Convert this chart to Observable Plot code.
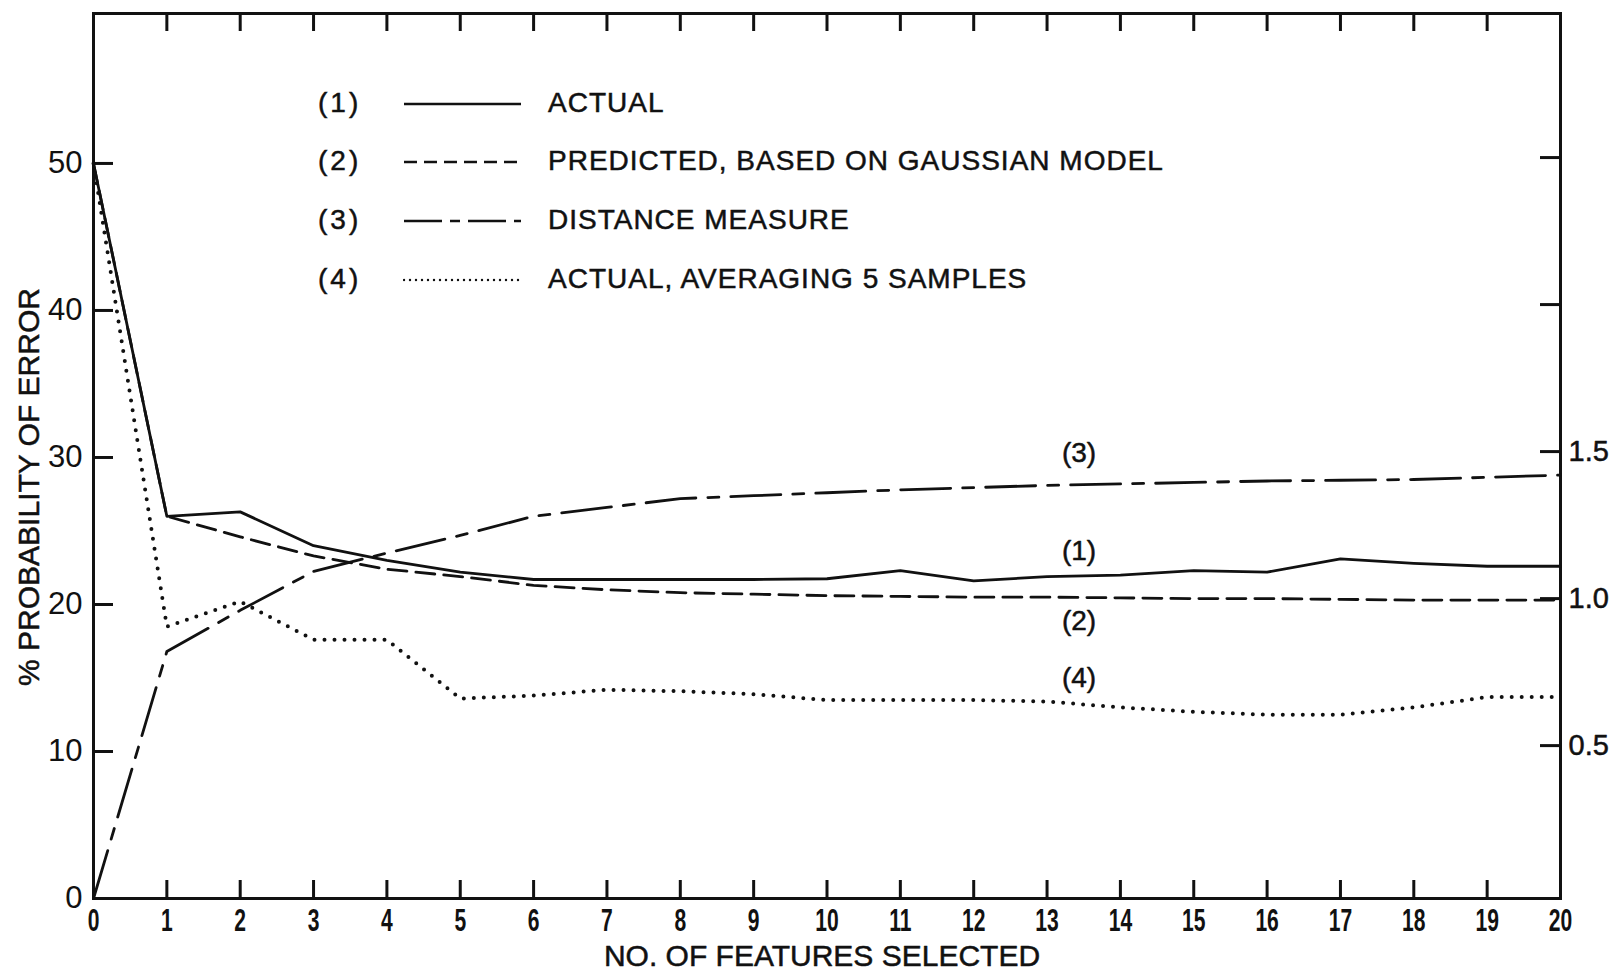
<!DOCTYPE html>
<html>
<head>
<meta charset="utf-8">
<script src="https://cdn.jsdelivr.net/npm/d3@7"></script>
<script src="https://cdn.jsdelivr.net/npm/@observablehq/plot@0.6"></script>
<style>
  body { margin: 0; background: #fff; }
  #wrap { position: relative; width: 1623px; height: 976px; overflow: hidden; }
  .leg { position: absolute; font-family: "Liberation Sans", Arial, sans-serif; font-size: 28px; color: #111; white-space: nowrap; line-height: 1; -webkit-text-stroke: 0.5px #111; }
  g[aria-label="x-axis tick label"] text { font-family: "Liberation Sans", Arial, sans-serif; font-weight: bold; }
</style>
</head>
<body>
<div id="wrap"></div>
<script>
// ---- data ----
const features = [0,1,2,3,4,5,6,7,8,9,10,11,12,13,14,15,16,17,18,19,20];
const actual    = [50, 26.0, 26.3, 24.0, 23.0, 22.2, 21.7, 21.7, 21.7, 21.7, 21.75, 22.3, 21.6, 21.9, 22.0, 22.3, 22.2, 23.1, 22.8, 22.6, 22.6];
const predicted = [50, 26.0, 24.6, 23.3, 22.4, 21.9, 21.3, 21.0, 20.8, 20.7, 20.6, 20.55, 20.5, 20.5, 20.45, 20.4, 20.4, 20.35, 20.3, 20.3, 20.3];
const distance  = [0, 16.8, 19.6, 22.25, 23.5, 24.7, 26.0, 26.6, 27.2, 27.4, 27.6, 27.8, 27.95, 28.1, 28.2, 28.3, 28.4, 28.45, 28.5, 28.65, 28.8];
const averaged  = [50, 18.5, 20.2, 17.6, 17.6, 13.6, 13.8, 14.2, 14.1, 13.9, 13.5, 13.5, 13.5, 13.4, 13.0, 12.7, 12.5, 12.5, 13.0, 13.7, 13.7];

const leftTickValues  = [10, 20, 30, 40, 50];
const leftTickLabels  = [0, 10, 20, 30, 40, 50];
const rightTickValues = [0.5, 1.0, 1.5, 2.0, 2.5];
const rightTickLabels = [0.5, 1.0, 1.5];
const innerXTicks = [1,2,3,4,5,6,7,8,9,10,11,12,13,14,15,16,17,18,19];

const legendKeys   = ["(1)", "(2)", "(3)", "(4)"];
const legendLabels = ["ACTUAL", "PREDICTED, BASED ON GAUSSIAN MODEL", "DISTANCE MEASURE", "ACTUAL, AVERAGING 5 SAMPLES"];
const xLabel = "NO. OF FEATURES SELECTED";
const yLabel = "% PROBABILITY OF ERROR";

// ---- layout / style ----
const W = 1623, H = 976, mL = 93, mR = 63, mT = 13, mB = 78;
const yMax = 60.2;
const pxX = (W - mL - mR) / 20, pxY = (H - mT - mB) / yMax;
const tickLenV = 18 / pxY;  // vertical ticks, in y units
const tickLenH = 20 / pxX;  // horizontal ticks, in x units
const rightToLeft = r => r * 20 + 0.4;
const ink = "#111";
const font = "Liberation Sans, Arial, sans-serif";
const textStroke = {stroke: ink, strokeWidth: 0.5};
const styles = [
  {stroke: ink, strokeWidth: 2.8},
  {stroke: ink, strokeWidth: 2.8, strokeDasharray: "19,9"},
  {stroke: ink, strokeWidth: 2.8, strokeDasharray: "50,12,11,12"},
  {stroke: ink, strokeWidth: 4, strokeDasharray: "0,10", strokeLinecap: "round"}
];
const legendDash = ["", "13,7", "38,8,10,8", "0,6"];
const series = [actual, predicted, distance, averaged];
const annIdx = 13;
const annDy = [-26, 24, -32, -23];

const seriesMarks = series.map((s, k) => Plot.line(s, {
  x: (d, i) => features[i], y: d => d, strokeLinejoin: "round", ...styles[k]
}));
const annMarks = series.map((s, k) => Plot.text([s[annIdx]], {
  x: features[annIdx], y: d => d, text: () => legendKeys[k], dx: 32, dy: annDy[k],
  fontSize: 28, fill: ink, fontFamily: font, letterSpacing: 3, ...textStroke
}));

const plot = Plot.plot({
  width: W, height: H,
  marginLeft: mL, marginRight: mR, marginTop: mT, marginBottom: mB,
  x: {domain: [0, 20]},
  y: {domain: [0, yMax]},
  style: {background: "white", color: ink, fontFamily: font},
  marks: [
    Plot.frame({stroke: ink, strokeWidth: 3}),
    Plot.ruleX(innerXTicks, {x: d => d, y1: 0, y2: tickLenV, stroke: ink, strokeWidth: 3}),
    Plot.ruleX(innerXTicks, {x: d => d, y1: yMax - tickLenV, y2: yMax, stroke: ink, strokeWidth: 3}),
    Plot.ruleY(leftTickValues, {y: d => d, x1: 0, x2: tickLenH, stroke: ink, strokeWidth: 3}),
    Plot.ruleY(rightTickValues, {y: rightToLeft, x1: 20 - tickLenH, x2: 20, stroke: ink, strokeWidth: 3}),
    Plot.axisX({ticks: features, tickSize: 0, tickPadding: 10, fontSize: 31, label: null, tickFormat: d => String(d)}),
    Plot.axisY({ticks: leftTickLabels, tickSize: 0, tickPadding: 11, fontSize: 31, label: null, tickFormat: d => String(d), ...textStroke}),
    Plot.text(rightTickLabels, {x: 20, y: rightToLeft, text: r => r.toFixed(1), textAnchor: "start", dx: 8,
      fontSize: 29, fill: ink, letterSpacing: -1, ...textStroke}),
    ...seriesMarks,
    ...annMarks,
    Plot.text([xLabel], {frameAnchor: "bottom", lineAnchor: "middle", textAnchor: "middle", dy: 58, dx: -5,
      text: d => d, fontSize: 30, fill: ink, ...textStroke}),
    Plot.text([yLabel], {frameAnchor: "left", lineAnchor: "middle", textAnchor: "middle", rotate: -90, dx: -64, dy: 31,
      text: d => d, fontSize: 30, fill: ink, letterSpacing: 0.3, ...textStroke})
  ]
});

// condense the x tick labels horizontally (narrow hand lettering)
d3.select(plot).selectAll('g[aria-label="x-axis tick label"] text').each(function () {
  const t = this.getAttribute("transform");
  if (t) {
    this.setAttribute("transform", t + " scale(0.68,1)");
  } else {
    const x = +this.getAttribute("x") || 0;
    this.setAttribute("transform", `translate(${x},0) scale(0.68,1) translate(${-x},0)`);
  }
});

const wrap = document.getElementById("wrap");
wrap.appendChild(plot);

// ---- legend overlay ----
const legTop = 103.5, legStep = 58.7;
legendKeys.forEach((key, i) => {
  const cy = legTop + i * legStep;
  const k = document.createElement("div");
  k.className = "leg";
  k.style.left = "318px"; k.style.top = (cy - 15) + "px"; k.style.letterSpacing = "3px";
  k.textContent = key;
  wrap.appendChild(k);
  const lab = document.createElement("div");
  lab.className = "leg";
  lab.style.left = "548px"; lab.style.top = (cy - 15) + "px"; lab.style.letterSpacing = "1px";
  lab.textContent = legendLabels[i];
  wrap.appendChild(lab);
  const svg = d3.select(wrap).append("svg")
    .attr("width", 120).attr("height", 10)
    .style("position", "absolute").style("left", "403px").style("top", (cy - 5) + "px");
  svg.append("line").attr("x1", 1).attr("x2", 118).attr("y1", 5).attr("y2", 5)
    .attr("stroke", ink).attr("stroke-width", 2.4)
    .attr("stroke-dasharray", legendDash[i] || null)
    .attr("stroke-linecap", i === 3 ? "round" : "butt");
});
</script>
</body>
</html>
